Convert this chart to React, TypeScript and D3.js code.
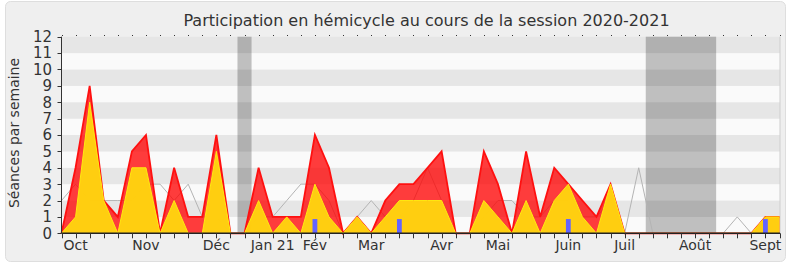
import React from "react";
import * as d3 from "d3";

const title = "Participation en hémicycle au cours de la session 2020-2021";
const yLabel = "Séances par semaine";
const yTicks = [0, 1, 2, 3, 4, 5, 6, 7, 8, 9, 10, 11, 12];

// weekly values, 52 weeks (index 0..51)
const presence = [0, 4, 9, 2, 1, 5, 6, 0, 4, 1, 1, 6, 0, 0, 4, 1, 1, 1, 6, 4, 0, 1, 0, 2, 3, 3, 4, 5, 0, 0, 5, 3, 0, 5, 1, 4, 3, 2, 1, 3, 0, 0, 0, 0, 0, 0, 0, 0, 0, 0, 1, 1];
const interventions = [0, 1, 8, 2, 0, 4, 4, 0, 2, 0, 0, 5, 0, 0, 2, 0, 1, 0, 3, 1, 0, 1, 0, 1, 2, 2, 2, 2, 0, 0, 2, 1, 0, 2, 0, 2, 3, 1, 0, 3, 0, 0, 0, 0, 0, 0, 0, 0, 0, 0, 1, 1];
const median = [2, 3, 2, 2, 2, 2, 3, 3, 2, 3, 1, 1, 0, 0, 1, 1, 2, 3, 3, 2, 0, 1, 2, 1, 1, 2, 4, 2, 0, 0, 1, 2, 2, 1, 1, 2, 2, 1, 1, 2, 0, 4, 0, 0, 0, 0, 0, 0, 1, 0, 0, 0];
const questions = [0, 0, 0, 0, 0, 0, 0, 0, 0, 0, 0, 0, 0, 0, 0, 0, 0, 0, 1, 0, 0, 0, 0, 0, 1, 0, 0, 0, 0, 0, 0, 0, 0, 0, 0, 0, 1, 0, 0, 0, 0, 0, 0, 0, 0, 0, 0, 0, 0, 0, 1, 0];

const monthLabels = ["Oct", "Nov", "Déc", "Jan 21", "Fév", "Mar", "Avr", "Mai", "Juin", "Juil", "Août", "Sept"];
const monthWeeks = [1, 6, 11, 15, 18, 22, 27, 31, 36, 40, 45, 50];

// vacation periods [startWeek, endWeek]
const vacStart = [12.5, 41.5];
const vacEnd = [13.5, 46.5];

const W = 790;
const H = 267;
const FONT = "DejaVu Sans, Verdana, sans-serif";

export default function App() {
  const n = presence.length;
  const x = d3.scaleLinear().domain([0, n - 1]).range([61.5, 779.5]);
  const y = d3.scaleLinear().domain([0, 12]).range([233.3, 36.7]);
  const idx = d3.range(n);

  const area = (vals: number[]) =>
    d3.area<number>().x((i) => x(i)).y0(y(0)).y1((i) => y(vals[i]))(idx) || "";
  const line = (vals: number[]) =>
    d3.line<number>().x((i) => x(i)).y((i) => y(vals[i]))(idx) || "";

  const plotL = 61.5;
  const plotR = 780;

  return (
    <svg width={W} height={H} style={{ position: "absolute", left: 0, top: 0 }} fontFamily={FONT}>
      <rect x={0} y={0} width={W} height={H} fill="#ffffff" />
      <rect x={5.5} y={1.5} width={780} height={260} rx={5} fill="#efefef" stroke="#dedede" />
      <text x={426.5} y={26} textAnchor="middle" fontSize={16} fill="#333">{title}</text>

      {/* stripes */}
      {yTicks.slice(0, 12).map((t) => (
        <rect key={t} x={plotL} y={y(t + 1)} width={plotR - plotL} height={y(t) - y(t + 1)}
          fill={t % 2 === 1 ? "#e6e6e6" : "#fafafa"} />
      ))}
      <line x1={plotR} x2={plotR} y1={y(12)} y2={y(0)} stroke="#cfcfcf" />

      {/* vacation bands */}
      {vacStart.map((s, i) => (
        <rect key={i} x={x(s)} y={y(12)} width={x(vacEnd[i]) - x(s)} height={y(0) - y(12)}
          fill="#000" fillOpacity={0.235} />
      ))}

      {/* median line */}
      <path d={line(median)} fill="none" stroke="#b4b4b4" strokeWidth={1} />

      {/* presence */}
      <path d={area(presence)} fill="rgba(255,0,0,0.76)" />
      <path d={line(presence)} fill="none" stroke="#ff1010" strokeWidth={1.8} />

      {/* interventions */}
      <path d={area(interventions)} fill="#ffd40f" fillOpacity={0.96} />
      <path d={line(interventions)} fill="none" stroke="#ffea10" strokeWidth={1} />

      {/* questions */}
      {questions.map((q, i) =>
        q > 0 ? (
          <rect key={i} x={x(i) - 2.4} y={y(q * 0.87)} width={4.8} height={y(0) - y(q * 0.87)} fill="#6464ff" />
        ) : null
      )}

      {/* axes */}
      <line x1={plotL} x2={plotL} y1={y(12)} y2={y(0)} stroke="#333" />
      <line x1={plotL} x2={plotR} y1={y(0)} y2={y(0)} stroke="#222" strokeWidth={1.5} />
      {yTicks.map((t) => (
        <g key={t}>
          <line x1={plotL - 4} x2={plotL} y1={Math.round(y(t)) + 0.5} y2={Math.round(y(t)) + 0.5} stroke="#333" />
          <text x={52} y={y(t)} dy="0.36em" textAnchor="end" fontSize={15} fill="#333">{t}</text>
        </g>
      ))}
      {idx.map((i) => (
        <g key={i}>
          <line x1={Math.round(x(i)) + 0.5} x2={Math.round(x(i)) + 0.5} y1={y(0)} y2={y(0) + 5} stroke="#333" />
          <rect x={Math.round(x(i))} y={35} width={1} height={1} fill="#333" />
        </g>
      ))}
      {monthLabels.map((m, i) => (
        <text key={m} x={x(monthWeeks[i])} y={250} textAnchor="middle" fontSize={14} fill="#333">{m}</text>
      ))}
      <text transform={`translate(19,${133}) rotate(-90)`} textAnchor="middle" fontSize={14} fill="#333">{yLabel}</text>
    </svg>
  );
}
